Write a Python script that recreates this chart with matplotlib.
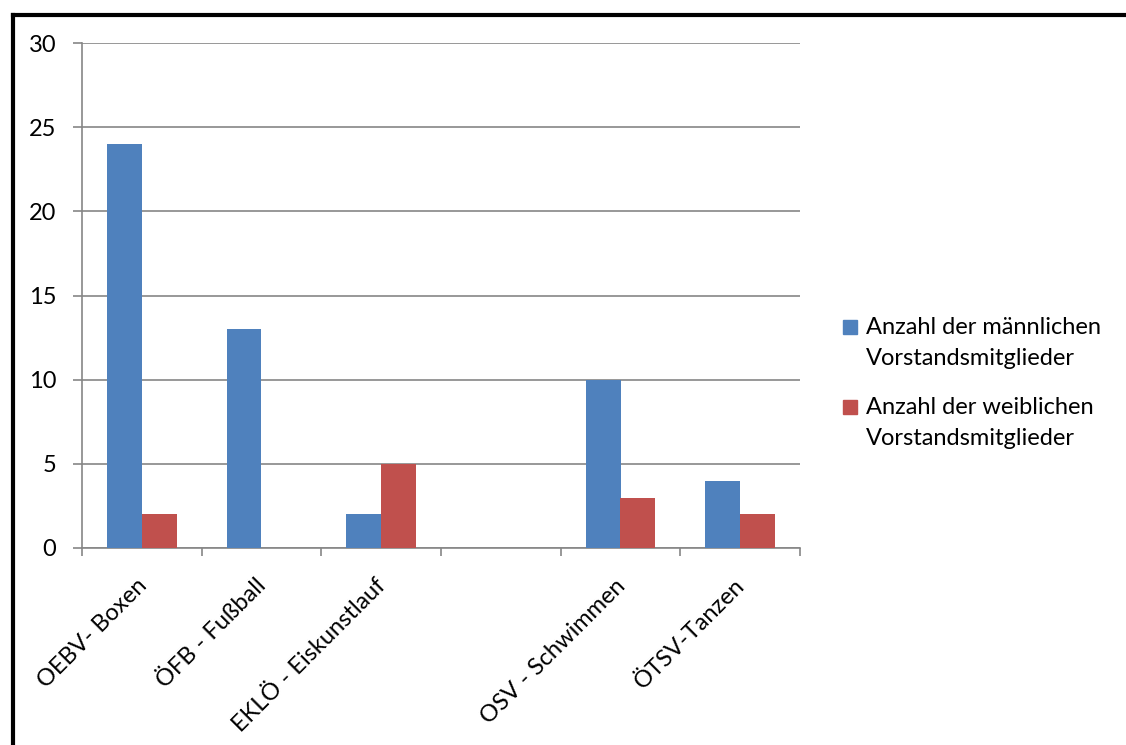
import matplotlib
matplotlib.use("Agg")
import matplotlib.pyplot as plt
import numpy as np
from matplotlib.lines import Line2D
from matplotlib.patches import Rectangle

# Daten
kategorien = ["OEBV- Boxen", "ÖFB - Fußball", "EKLÖ - Eiskunstlauf", "",
              "OSV - Schwimmen", "ÖTSV-Tanzen"]
maennlich = [24, 13, 2, 0, 10, 4]
weiblich = [2, 0, 5, 0, 3, 2]
y_ticks = [0, 5, 10, 15, 20, 25, 30]
legende = [("Anzahl der männlichen", "Vorstandsmitglieder"),
           ("Anzahl der weiblichen", "Vorstandsmitglieder")]

BLAU = "#4F81BD"
ROT = "#C0504D"
GRID = "#868686"
W, H = 1126, 745

plt.rcParams["font.family"] = ["Lato", "DejaVu Sans"]

fig = plt.figure(figsize=(W / 100, H / 100), dpi=100)
ax = fig.add_axes([82 / W, 1 - 548 / H, (800 - 82) / W, (548 - 43) / H])

x = np.arange(len(kategorien))
w = 0.29
ax.bar(x - w / 2, maennlich, w, color=BLAU, zorder=3)
ax.bar(x + w / 2, weiblich, w, color=ROT, zorder=3)

ax.set_xlim(-0.5, len(kategorien) - 0.5)
ax.set_ylim(0, 30)
ax.set_yticks(y_ticks)
ax.yaxis.grid(True, color=GRID, linewidth=1.2, zorder=0)

# Teilstriche an den Kategoriegrenzen
ax.set_xticks(np.arange(len(kategorien) + 1) - 0.5)
ax.set_xticklabels([])
ax.tick_params(axis="x", length=6, color=GRID, width=1.2)
ax.tick_params(axis="y", length=6.5, color=GRID, width=1.2, labelsize=17, pad=12)
for i, lab in enumerate(kategorien):
    ax.text(i - 0.05, -1.6, lab, rotation=45, ha="right", va="top",
            rotation_mode="anchor", fontsize=17, transform=ax.transData)

for s in ["top", "right"]:
    ax.spines[s].set_visible(False)
for s in ["left", "bottom"]:
    ax.spines[s].set_color(GRID)
    ax.spines[s].set_linewidth(1.2)

# Legende rechts
for (z1, z2), farbe, y0 in zip(legende, [BLAU, ROT], [334, 414]):
    fig.add_artist(Rectangle((843 / W, 1 - y0 / H), 14 / W, 14 / H,
                             color=farbe, transform=fig.transFigure))
    fig.text(866 / W, 1 - y0 / H, z1, fontsize=17, va="baseline", ha="left")
    fig.text(866 / W, 1 - (y0 + 31) / H, z2, fontsize=17, va="baseline", ha="left")

# Rahmen oben und links
fig.add_artist(Line2D([13 / W, 1], [1 - 15 / H, 1 - 15 / H], color="black", linewidth=3,
                      transform=fig.transFigure))
fig.add_artist(Line2D([13 / W, 13 / W], [0, 1 - 15 / H], color="black", linewidth=3,
                      transform=fig.transFigure))

fig.savefig("out.png", dpi=100, facecolor="white")
